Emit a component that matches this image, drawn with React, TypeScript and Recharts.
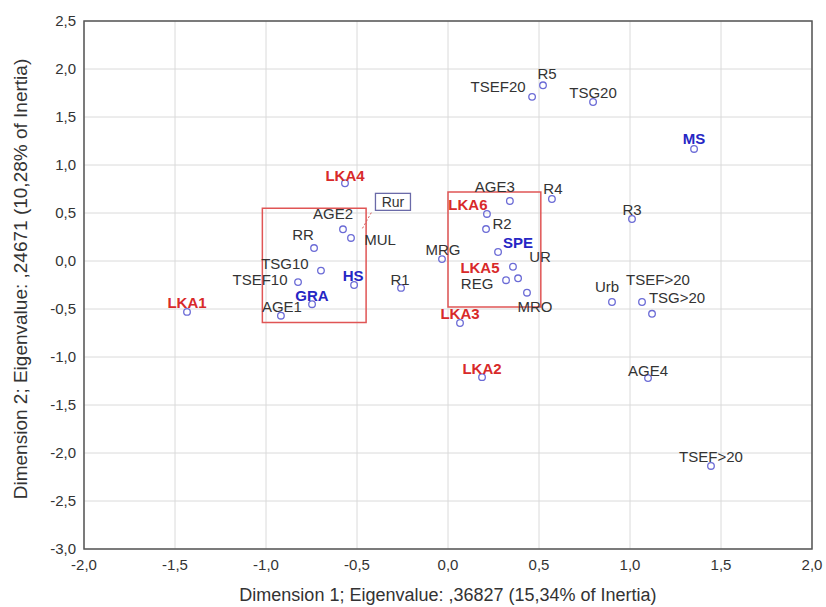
import {
  ScatterChart,
  Scatter,
  XAxis,
  YAxis,
  CartesianGrid,
  ReferenceArea,
  Label,
} from "recharts";

type Pt = { id: string; name: string; x: number; y: number };

const FONT = "'Liberation Sans', Arial, sans-serif";

const xTicks = [-2, -1.5, -1, -0.5, 0, 0.5, 1, 1.5, 2];
const yTicks = [-3, -2.5, -2, -1.5, -1, -0.5, 0, 0.5, 1, 1.5, 2, 2.5];

const xTitle = "Dimension 1; Eigenvalue: ,36827 (15,34% of Inertia)";
const yTitle = "Dimension 2; Eigenvalue: ,24671 (10,28% of Inertia)";

// LKA categories (red bold labels)
const lkaPoints: Pt[] = [
  { id: "LKA1", name: "LKA1", x: -1.434, y: -0.53 },
  { id: "LKA2", name: "LKA2", x: 0.187, y: -1.21 },
  { id: "LKA3", name: "LKA3", x: 0.066, y: -0.646 },
  { id: "LKA4", name: "LKA4", x: -0.566, y: 0.81 },
  { id: "LKA5", name: "LKA5", x: 0.357, y: -0.06 },
  { id: "LKA6", name: "LKA6", x: 0.214, y: 0.49 },
];

// blue bold labels
const bluePoints: Pt[] = [
  { id: "MS", name: "MS", x: 1.352, y: 1.167 },
  { id: "SPE", name: "SPE", x: 0.275, y: 0.094 },
  { id: "HS", name: "HS", x: -0.516, y: -0.25 },
  { id: "GRA", name: "GRA", x: -0.747, y: -0.45 },
];

// other variables (plain labels)
const otherPoints: Pt[] = [
  { id: "R5", name: "R5", x: 0.522, y: 1.83 },
  { id: "TSEF20", name: "TSEF20", x: 0.462, y: 1.71 },
  { id: "TSG20", name: "TSG20", x: 0.797, y: 1.656 },
  { id: "AGE3", name: "AGE3", x: 0.34, y: 0.625 },
  { id: "R4", name: "R4", x: 0.571, y: 0.646 },
  { id: "R2", name: "R2", x: 0.209, y: 0.333 },
  { id: "MRG", name: "MRG", x: -0.033, y: 0.02 },
  { id: "UR", name: "UR", x: 0.385, y: -0.18 },
  { id: "REG", name: "REG", x: 0.319, y: -0.2 },
  { id: "MRO", name: "MRO", x: 0.434, y: -0.33 },
  { id: "R3", name: "R3", x: 1.011, y: 0.4375 },
  { id: "Urb", name: "Urb", x: 0.901, y: -0.427 },
  { id: "TSEF>20a", name: "TSEF>20", x: 1.066, y: -0.427 },
  { id: "TSG>20", name: "TSG>20", x: 1.121, y: -0.55 },
  { id: "AGE4", name: "AGE4", x: 1.099, y: -1.22 },
  { id: "TSEF>20b", name: "TSEF>20", x: 1.445, y: -2.135 },
  { id: "AGE2", name: "AGE2", x: -0.577, y: 0.33 },
  { id: "MUL", name: "MUL", x: -0.533, y: 0.24 },
  { id: "RR", name: "RR", x: -0.736, y: 0.135 },
  { id: "TSG10", name: "TSG10", x: -0.698, y: -0.1 },
  { id: "TSEF10", name: "TSEF10", x: -0.824, y: -0.22 },
  { id: "AGE1", name: "AGE1", x: -0.918, y: -0.57 },
  { id: "R1", name: "R1", x: -0.258, y: -0.28 },
];

// supplementary point shown with a boxed label
const supplementaryPoints: Pt[] = [{ id: "Rur", name: "Rur", x: -0.47, y: 0.34 }];

// highlighted groups (red frames)
const leftGroup = { x1: -1.02, x2: -0.45, y1: -0.64, y2: 0.55 };
const centerGroup = { x1: 0, x2: 0.51, y1: -0.48, y2: 0.72 };

// label placement relative to the marker (px)
const LABEL_OFFSETS: Record<string, [number, number]> = {
  LKA1: [0, -9],
  LKA2: [0, -9],
  LKA3: [0, -10],
  LKA4: [0, -8],
  LKA5: [-33, 1],
  LKA6: [-19, -9],
  MS: [0, -10],
  SPE: [20, -9],
  HS: [-1, -10],
  GRA: [0, -9],
  R5: [4, -12],
  TSEF20: [-34, -10],
  TSG20: [0, -10],
  AGE3: [-15, -15],
  R4: [1, -10],
  R2: [16, -6],
  MRG: [1, -10],
  UR: [22, -22],
  REG: [-29, 3],
  MRO: [8, 14],
  R3: [0, -10],
  Urb: [-5, -15],
  "TSEF>20a": [16, -22],
  "TSG>20": [25, -16],
  AGE4: [0, -8],
  "TSEF>20b": [0, -9],
  AGE2: [-10, -16],
  MUL: [29, 2],
  RR: [-11, -14],
  TSG10: [-36, -7],
  TSEF10: [-38, -3],
  AGE1: [1, -9],
  R1: [-1, -8],
};

const fmt = (v: number) => v.toFixed(1).replace(".", ",");

function pointShape(color: string, bold: boolean) {
  return (props: any) => {
    const { cx, cy, payload } = props;
    const [dx, dy] = LABEL_OFFSETS[payload.id] ?? [0, -10];
    return (
      <g>
        <circle cx={cx} cy={cy} r={3.3} fill="none" stroke="#6b6bd6" strokeWidth={1.3} />
        <text
          x={cx + dx}
          y={cy + dy}
          textAnchor="middle"
          dominantBaseline="central"
          fill={color}
          fontWeight={bold ? 700 : 400}
          fontSize={15}
          fontFamily={FONT}
        >
          {payload.name}
        </text>
      </g>
    );
  };
}

function boxedShape(props: any) {
  const { cx, cy, payload } = props;
  return (
    <g>
      <line x1={cx} y1={cy} x2={cx + 9} y2={cy - 16} stroke="#d06060" strokeWidth={1} strokeDasharray="2 2" />
      <rect x={cx + 13} y={cy - 35} width={35} height={17} fill="#fff" stroke="#6a6aa8" strokeWidth={1.3} />
      <text
        x={cx + 30.5}
        y={cy - 26.5}
        textAnchor="middle"
        dominantBaseline="central"
        fill="#333"
        fontSize={14}
        fontFamily={FONT}
      >
        {payload.name}
      </text>
    </g>
  );
}

export default function App() {
  const tick = { fontSize: 15, fill: "#333", fontFamily: FONT };
  return (
    <div style={{ position: "absolute", left: 0, top: 0, width: 826, height: 607, background: "#fff" }}>
      <ScatterChart width={826} height={607} margin={{ top: 21, right: 14, bottom: 0, left: 0 }}>
        <CartesianGrid stroke="#dadada" strokeWidth={1} />
        <XAxis
          type="number"
          dataKey="x"
          domain={[-2, 2]}
          ticks={xTicks}
          tickFormatter={fmt}
          tick={tick}
          tickLine={false}
          tickSize={0}
          tickMargin={10}
          axisLine={false}
          height={58}
          allowDataOverflow
        >
          <Label
            value={xTitle}
            position="insideBottom"
            offset={6}
            style={{ fontSize: 18, fill: "#333", fontFamily: FONT }}
          />
        </XAxis>
        <YAxis
          type="number"
          dataKey="y"
          domain={[-3, 2.5]}
          ticks={yTicks}
          tickFormatter={fmt}
          tick={tick}
          tickLine={false}
          tickSize={0}
          tickMargin={8}
          axisLine={false}
          width={84}
          allowDataOverflow
        >
          <Label
            content={({ viewBox }: any) => {
              const cx = viewBox.x + 20;
              const cy = viewBox.y + viewBox.height / 2 - 6;
              return (
                <text
                  x={cx}
                  y={cy}
                  transform={`rotate(-90 ${cx} ${cy})`}
                  textAnchor="middle"
                  dominantBaseline="central"
                  fontSize={19}
                  fill="#333"
                  fontFamily={FONT}
                >
                  {yTitle}
                </text>
              );
            }}
          />
        </YAxis>
        <ReferenceArea x1={-2} x2={2} y1={-3} y2={2.5} fill="none" stroke="#555" strokeWidth={1.5} />
        <ReferenceArea {...leftGroup} fill="none" stroke="#e05555" strokeWidth={1.5} />
        <ReferenceArea {...centerGroup} fill="none" stroke="#e05555" strokeWidth={1.5} />
        <Scatter data={supplementaryPoints} shape={boxedShape} isAnimationActive={false} />
        <Scatter data={otherPoints} shape={pointShape("#333", false)} isAnimationActive={false} />
        <Scatter data={bluePoints} shape={pointShape("#2626c4", true)} isAnimationActive={false} />
        <Scatter data={lkaPoints} shape={pointShape("#d82a2a", true)} isAnimationActive={false} />
      </ScatterChart>
    </div>
  );
}
